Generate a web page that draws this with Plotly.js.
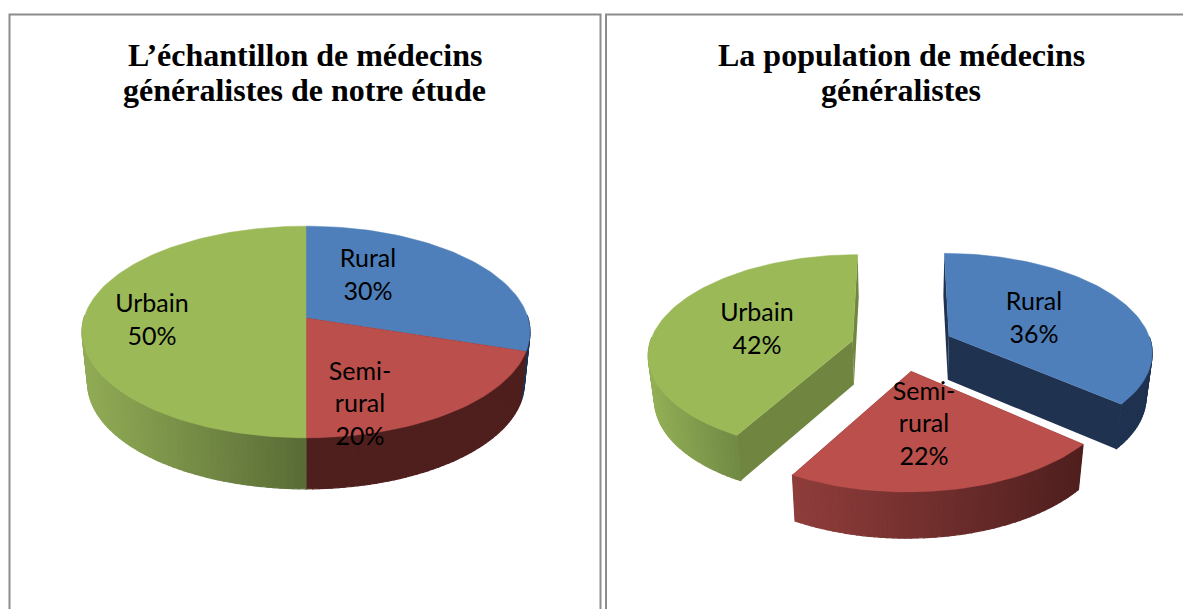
<!DOCTYPE html>
<html>
<head>
<meta charset="utf-8">
<script src="https://cdn.plot.ly/plotly-3.0.1.min.js"></script>
<style>html,body{margin:0;padding:0;background:#fff;overflow:hidden}#chart{width:1183px;height:609px}</style>
</head>
<body>
<div id="chart"></div>
<script>
// ---- data ----
const categories = ["Rural", "Semi-rural", "Urbain"];
const labelTexts = ["Rural", "Semi-<br>rural", "Urbain"];
const sampleValues = [30, 20, 50];
const populationValues = [36, 22, 42];
const sampleTitle = ["L’échantillon de médecins", "généralistes de notre étude"];
const populationTitle = ["La population de médecins", "généralistes"];

// ---- styles and geometry ----
const topColors = ["#4e7fba", "#bb4f4c", "#9bb957"];
const panels = [
  { values: sampleValues, title: sampleTitle, titleX: 304.5,
    cx: 306, cy: 318, A: 222, B: 104, k: 0.132, depth: 51, shrink: 0.975, yShrink: 1, explode: 0,
    nudge: [[0, 0], [0, 0], [0, 0]], apexNudge: [[0, 0], [0, 0], [0, 0]],
    wallColors: [["#1f3250", "#1f3250"], ["#4f1f1e", "#4f1f1e"], ["#90ab55", "#596b36"]],
    sideColors: ["#1f3250", "#4f1f1e", "#596b36"],
    wallRange: [[306, 530], [306, 530], [85, 306]],
    labelPos: [[368, 275], [360, 404], [152, 320]] },
  { values: populationValues, title: populationTitle, titleX: 901,
    cx: 901, cy: 350, A: 203, B: 98, k: 0.13, depth: 44, shrink: 0.975, yShrink: 1.015, explode: 0.245,
    nudge: [[4, -2], [-5, -3], [-1, -4]], apexNudge: [[-0.5, -2], [5.5, 0], [0.5, 0.5]],
    wallColors: [["#1f3250", "#1f3250"], ["#8f3d3b", "#4f1f1e"], ["#93b056", "#6f8844"]],
    sideColors: ["#1f3250", "#4f1f1e", "#6f8540"],
    wallRange: [[944, 1155], [794, 1082], [648, 740]],
    labelPos: [[1034, 318], [924, 424], [757, 329]] }
];

function hex(c) { return [1, 3, 5].map(i => parseInt(c.substr(i, 2), 16)); }
function mix(a, b, t) {
  t = Math.max(0, Math.min(1, t));
  const p = hex(a), q = hex(b);
  return "rgb(" + p.map((v, i) => Math.round(v + (q[i] - v) * t)).join(",") + ")";
}
function project(p, s, deg, r, bottom) {
  const a = deg * Math.PI / 180;
  const u = s.eu + r * Math.sin(a), v = s.ev - r * Math.cos(a);
  const w = 1 - p.k * v;
  let X = p.A * u / w, Y = p.B * v / w;
  if (bottom) { X *= p.shrink; Y = Y * p.yShrink + p.depth; }
  const n = p.nudge[s.i], e = r === 0 ? p.apexNudge[s.i] : [0, 0];
  return [p.cx + X + n[0] + e[0], p.cy + Y + n[1] + e[1]];
}
function poly(pts, color, lw) {
  const xs = pts.map(q => q[0]).concat(pts[0][0]);
  const ys = pts.map(q => q[1]).concat(pts[0][1]);
  return { type: "scatter", mode: "lines", x: xs, y: ys, fill: "toself", fillcolor: color,
           line: { color: color, width: lw }, hoverinfo: "skip", showlegend: false };
}

const traces = [];
const annotations = [];
panels.forEach(p => {
  const total = p.values.reduce((s, v) => s + v, 0);
  let start = 0;
  const slices = p.values.map((v, i) => {
    const sweep = v / total * 360, from = start;
    start += sweep;
    const mid = (from + sweep / 2) * Math.PI / 180;
    return { i, from, to: from + sweep, eu: p.explode * Math.sin(mid), ev: -p.explode * Math.cos(mid) };
  });
  const order = slices.slice().sort((a, b) => a.ev - b.ev);
  order.forEach(s => {
    // radial side walls
    [s.from, s.to].forEach(edge => {
      traces.push(poly([
        project(p, s, edge, 0, false), project(p, s, edge, 1, false),
        project(p, s, edge, 1, true), project(p, s, edge, 0, true)
      ], p.sideColors[s.i], 0));
    });
    // outer wall, strip by strip for the shading; the far half is hidden
    const n = Math.ceil((s.to - s.from) / 1.5);
    for (let j = 0; j < n; j++) {
      const a0 = s.from + (s.to - s.from) * j / n, a1 = s.from + (s.to - s.from) * (j + 1) / n;
      if (Math.cos((a0 + a1) / 2 * Math.PI / 180) > 0.02) continue;
      const q = [project(p, s, a0, 1, false), project(p, s, a1, 1, false),
                 project(p, s, a1, 1, true), project(p, s, a0, 1, true)];
      const xm = (q[0][0] + q[1][0]) / 2;
      const rng = p.wallRange[s.i], col = p.wallColors[s.i];
      traces.push(poly(q, mix(col[0], col[1], (xm - rng[0]) / (rng[1] - rng[0])), 1.2));
    }
    // top face
    const face = [project(p, s, 0, 0, false)];
    const m = Math.ceil((s.to - s.from) / 1.5);
    for (let j = 0; j <= m; j++) face.push(project(p, s, s.from + (s.to - s.from) * j / m, 1, false));
    traces.push(poly(face, topColors[s.i], 0.5));
  });
  // labels
  traces.push({ type: "scatter", mode: "text", hoverinfo: "skip", showlegend: false,
    x: p.labelPos.map(l => l[0]), y: p.labelPos.map(l => l[1] + 2),
    text: labelTexts.map((t, i) => t + "<br>" + p.values[i] + "%"),
    textposition: "middle center",
    textfont: { family: "Lato, Carlito, sans-serif", size: 25, color: "#000" } });
  p.title.forEach((line, i) => annotations.push({ x: p.titleX, y: 54.5 + i * 35, xref: "x", yref: "y",
    text: line, showarrow: false, xanchor: "center", yanchor: "middle", align: "center",
    font: { family: "Liberation Serif, serif", size: 32, color: "#000", weight: 700 } }));
});

const frame = "#8c8c8c";
const shapes = [
  { type: "rect", xref: "x", yref: "y", x0: 9.5, x1: 600.5, y0: 14.5, y1: 640, line: { color: frame, width: 2 } },
  { type: "rect", xref: "x", yref: "y", x0: 606, x1: 1230, y0: 14.5, y1: 640, line: { color: frame, width: 2 } }
];

Plotly.newPlot("chart", traces, {
  width: 1183, height: 609, margin: { l: 0, r: 0, t: 0, b: 0 },
  paper_bgcolor: "#fff", plot_bgcolor: "#fff", showlegend: false,
  xaxis: { range: [0, 1183], visible: false, fixedrange: true },
  yaxis: { range: [609, 0], visible: false, fixedrange: true },
  shapes: shapes, annotations: annotations
}, { displayModeBar: false, staticPlot: true });
</script>
</body>
</html>
